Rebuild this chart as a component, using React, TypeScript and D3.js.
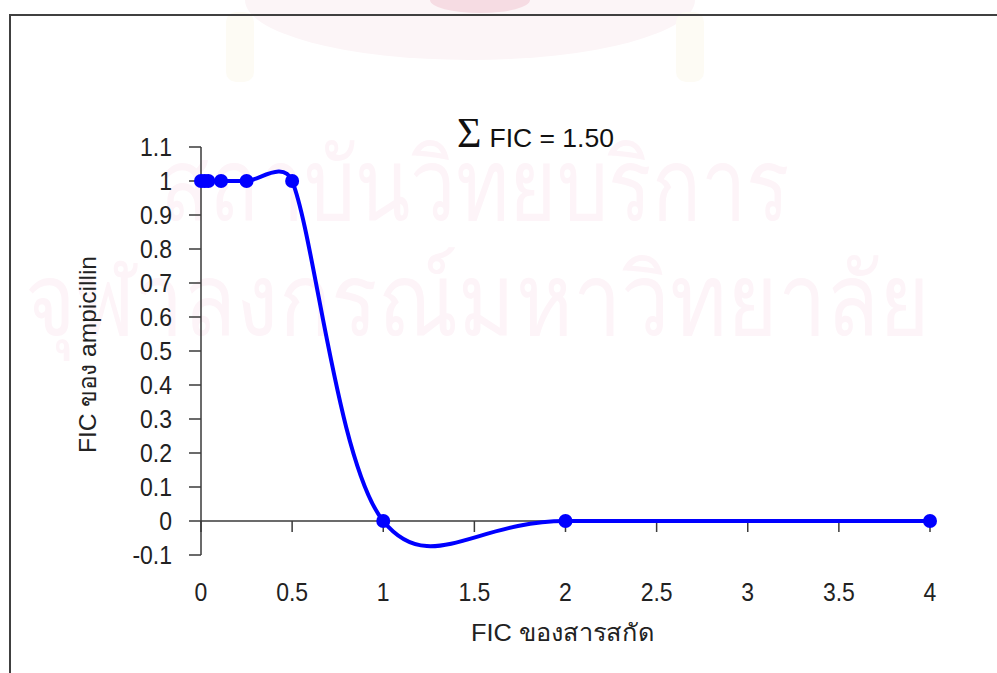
import React, { useRef, useEffect } from 'react';
import * as d3 from 'd3';

// FIC of the extract (x) against FIC of ampicillin (y)
const ficExtract: number[] = [0, 0.02, 0.04, 0.11, 0.25, 0.5, 1, 2, 4];
const ficAmpicillin: number[] = [1, 1, 1, 1, 1, 1, 0, 0, 0];

const xTicks: number[] = [0, 0.5, 1, 1.5, 2, 2.5, 3, 3.5, 4];
const yTicks: number[] = [-0.1, 0, 0.1, 0.2, 0.3, 0.4, 0.5, 0.6, 0.7, 0.8, 0.9, 1, 1.1];

const title = 'FIC = 1.50';
const xTitle = 'FIC ของสารสกัด';
const yTitle = 'FIC ของ ampicillin';
const watermark: string[] = ['สถาบันวิทยบริการ', 'จุฬาลงกรณ์มหาวิทยาลัย'];

const width = 997;
const height = 673;

type Pt = [number, number];

// Excel-like smoothed line: cubic bezier through every point, tangents from
// the neighbours (1/6 rule) but never longer than half the segment.
function smoothPath(pts: Pt[]): string {
  const p = d3.path();
  const n = pts.length;
  p.moveTo(pts[0][0], pts[0][1]);
  const cap = (dx: number, dy: number, max: number): Pt => {
    const len = Math.hypot(dx, dy);
    if (len > max && len > 0) {
      return [dx * max / len, dy * max / len];
    }
    return [dx, dy];
  };
  for (let i = 0; i < n - 1; i++) {
    const p0 = pts[Math.max(i - 1, 0)];
    const p1 = pts[i];
    const p2 = pts[i + 1];
    const p3 = pts[Math.min(i + 2, n - 1)];
    const seg = Math.hypot(p2[0] - p1[0], p2[1] - p1[1]);
    const t1 = cap((p2[0] - p0[0]) / 6, (p2[1] - p0[1]) / 6, seg / 2);
    const t2 = cap((p3[0] - p1[0]) / 6, (p3[1] - p1[1]) / 6, seg / 2);
    p.bezierCurveTo(p1[0] + t1[0], p1[1] + t1[1], p2[0] - t2[0], p2[1] - t2[1], p2[0], p2[1]);
  }
  return p.toString();
}

const App: React.FC = () => {
  const svgRef = useRef<SVGSVGElement | null>(null);

  useEffect(() => {
    if (!svgRef.current) {
      return;
    }
    const svg = d3.select(svgRef.current);
    svg.selectAll('*').remove();

    const font = '"Liberation Sans", Arial, sans-serif';
    const axisColor = '#3a3a3a';
    const textColor = '#222';

    const x = d3.scaleLinear().domain([0, 4]).range([201, 930]);
    const y = d3.scaleLinear().domain([-0.1, 1.1]).range([555, 147]);

    // faint watermark (emblem + text) behind the chart
    const wm = svg.append('g');
    wm.append('ellipse')
      .attr('cx', 470).attr('cy', 0).attr('rx', 225).attr('ry', 60)
      .attr('fill', '#fcf5f7');
    wm.append('ellipse')
      .attr('cx', 480).attr('cy', 0).attr('rx', 50).attr('ry', 13)
      .attr('fill', '#f6dce3');
    [240, 690].forEach(cx => {
      wm.append('rect')
        .attr('x', cx - 14).attr('y', 12).attr('width', 28).attr('height', 70)
        .attr('rx', 10)
        .attr('fill', '#fdfbf4');
    });
    const wmLines: [number, number, number][] = [[160, 220, 630], [25, 335, 905]];
    watermark.forEach((s, i) => {
      wm.append('text')
        .attr('x', wmLines[i][0]).attr('y', wmLines[i][1])
        .attr('textLength', wmLines[i][2])
        .attr('lengthAdjust', 'spacingAndGlyphs')
        .attr('font-family', '"Noto Sans", "DejaVu Sans", sans-serif')
        .attr('font-size', 100)
        .attr('fill', '#fdf4f8')
        .text(s);
    });

    // chart frame
    svg.append('rect')
      .attr('x', 10).attr('y', 15)
      .attr('width', 1000).attr('height', 700)
      .attr('fill', 'none')
      .attr('stroke', '#404040')
      .attr('stroke-width', 2);

    // y axis
    svg.append('line')
      .attr('x1', x(0)).attr('x2', x(0))
      .attr('y1', y(1.1)).attr('y2', y(-0.1))
      .attr('stroke', axisColor).attr('stroke-width', 1.5);
    yTicks.forEach(v => {
      svg.append('line')
        .attr('x1', x(0) - 12).attr('x2', x(0))
        .attr('y1', y(v)).attr('y2', y(v))
        .attr('stroke', axisColor).attr('stroke-width', 1.5);
      svg.append('text')
        .attr('transform', `translate(172,${y(v) + 8.5}) scale(1,1.1)`)
        .attr('text-anchor', 'end')
        .attr('font-family', font).attr('font-size', 23)
        .attr('fill', textColor)
        .text(String(+v.toFixed(1)));
    });

    // x axis along y = 0
    svg.append('line')
      .attr('x1', x(0)).attr('x2', x(4))
      .attr('y1', y(0)).attr('y2', y(0))
      .attr('stroke', axisColor).attr('stroke-width', 1.5);
    xTicks.forEach(v => {
      svg.append('line')
        .attr('x1', x(v)).attr('x2', x(v))
        .attr('y1', y(0)).attr('y2', y(0) + 11)
        .attr('stroke', axisColor).attr('stroke-width', 1.5);
      svg.append('text')
        .attr('transform', `translate(${x(v)},601) scale(1,1.1)`)
        .attr('text-anchor', 'middle')
        .attr('font-family', font).attr('font-size', 23)
        .attr('fill', textColor)
        .text(String(v));
    });

    // axis titles
    svg.append('text')
      .attr('x', 471).attr('y', 641)
      .attr('textLength', 184)
      .attr('lengthAdjust', 'spacingAndGlyphs')
      .attr('font-family', font).attr('font-size', 24)
      .attr('fill', textColor)
      .text(xTitle);
    svg.append('text')
      .attr('transform', 'translate(96,453) rotate(-90)')
      .attr('textLength', 197)
      .attr('lengthAdjust', 'spacingAndGlyphs')
      .attr('font-family', font).attr('font-size', 24)
      .attr('fill', textColor)
      .text(yTitle);

    // title
    const t = svg.append('text')
      .attr('x', 457).attr('y', 147)
      .attr('fill', '#111');
    t.append('tspan')
      .attr('font-family', '"Liberation Serif", "DejaVu Serif", serif')
      .attr('font-size', 42)
      .text('Σ');
    t.append('tspan')
      .attr('dx', 8)
      .attr('font-family', font)
      .attr('font-size', 26.5)
      .text(title);

    // smoothed series line
    const pts: Pt[] = ficExtract.map((v, i) => [x(v), y(ficAmpicillin[i])]);
    svg.append('path')
      .attr('fill', 'none')
      .attr('stroke', '#0000ff')
      .attr('stroke-width', 4)
      .attr('stroke-linejoin', 'round')
      .attr('d', smoothPath(pts));

    svg.selectAll('circle.pt')
      .data(pts)
      .join('circle')
      .attr('class', 'pt')
      .attr('cx', d => d[0])
      .attr('cy', d => d[1])
      .attr('r', 7)
      .attr('fill', '#0000ff');
  }, [svgRef]);

  return (
    <svg
      ref={svgRef}
      width={width}
      height={height}
      style={{ position: 'absolute', left: 0, top: 0, background: '#fff' }}
    />
  );
};

export default App;
